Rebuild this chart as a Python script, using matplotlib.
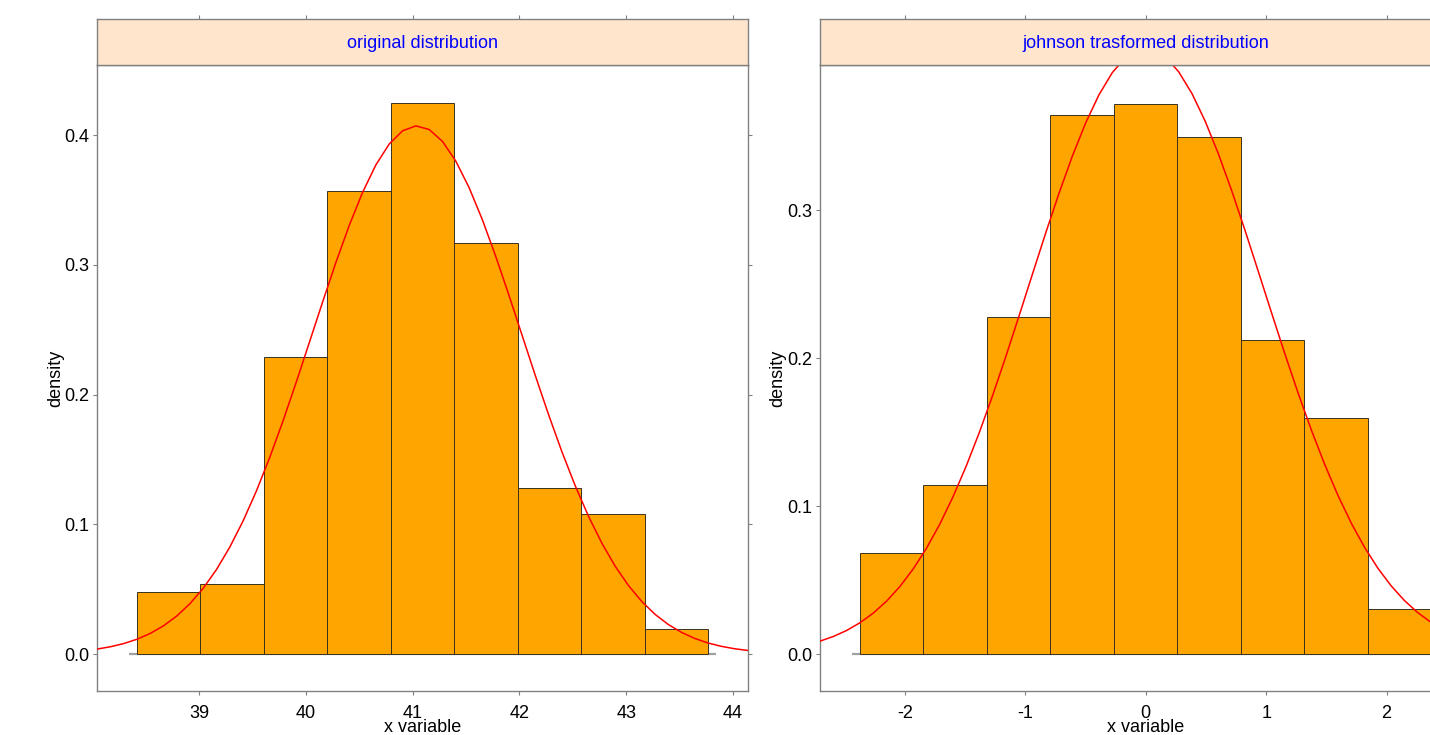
import numpy as np
import matplotlib
matplotlib.use("Agg")
import matplotlib.pyplot as plt

plt.rcParams['font.family'] = ['Liberation Sans', 'DejaVu Sans']

# ---- data ----
orig_breaks = [38.42, 39.014, 39.608, 40.202, 40.796, 41.39, 41.984, 42.578, 43.172, 43.766]
orig_density = [0.0476, 0.054, 0.229, 0.357, 0.4245, 0.3165, 0.128, 0.108, 0.0193]
orig_mean, orig_sd = 41.04, 0.98

john_breaks = [-2.374, -1.847, -1.320, -0.793, -0.266, 0.261, 0.788, 1.315, 1.842, 2.369]
john_density = [0.0684, 0.1142, 0.2277, 0.3642, 0.3716, 0.3495, 0.2122, 0.1593, 0.0304]
john_mean, john_sd = 0.0, 0.975

titles = ["original distribution", "johnson trasformed distribution"]
orig_xticks = [39, 40, 41, 42, 43, 44]
orig_yticks = [0.0, 0.1, 0.2, 0.3, 0.4]
john_xticks = [-2, -1, 0, 1, 2]
john_yticks = [0.0, 0.1, 0.2, 0.3]
xlabel = "x variable"
ylabel = "density"

W, H = 1430, 735
fig = plt.figure(figsize=(W / 100, H / 100), dpi=100)

FRAME = '#808080'
STRIP_BG = '#ffe5cc'
FS = 13


def px(x0, y0, x1, y1):
    return [x0 / W, 1 - y1 / H, (x1 - x0) / W, (y1 - y0) / H]


def panel(left_px, breaks, dens, mean, sd, xlim, ylim, xticks, yticks, title, ylab_x):
    ax = fig.add_axes(px(left_px, 65, left_px + 651, 691))
    st = fig.add_axes(px(left_px, 19, left_px + 651, 65))
    for a in (ax, st):
        a.set_xlim(*xlim)
        for s in a.spines.values():
            s.set_color(FRAME)
            s.set_linewidth(1.0)
    # histogram bars
    b = np.asarray(breaks)
    ax.bar(b[:-1], dens, width=np.diff(b), align='edge', color='#ffa500',
           edgecolor='#3a3020', linewidth=0.7, zorder=2)
    pad = 0.075 * (b[1] - b[0]) / 0.594
    ax.plot([b[0] - pad, b[-1] + pad], [0, 0], color='#a0a0a0', lw=1.6, zorder=1,
            solid_capstyle='butt')
    # fitted normal density curve (n = 50 points over panel limits)
    xs = np.linspace(xlim[0], xlim[1], 50)
    ys = np.exp(-0.5 * ((xs - mean) / sd) ** 2) / (sd * np.sqrt(2 * np.pi))
    ax.plot(xs, ys, color='red', lw=1.1, zorder=3)
    ax.set_ylim(*ylim)
    ax.set_xticks(xticks)
    ax.set_xticklabels([str(t) for t in xticks])
    ax.set_yticks(yticks)
    ax.set_yticklabels([f"{t:.1f}" for t in yticks])
    ax.tick_params(axis='both', direction='out', length=3, width=0.8, color=FRAME,
                   labelsize=FS, pad=2.5, top=False, right=True,
                   labelright=False)
    ax.tick_params(axis='x', pad=7)
    ax.set_xlabel(xlabel, fontsize=FS, labelpad=-2)
    ax.set_ylabel(ylabel, fontsize=FS)
    ax.yaxis.label.set_va('center')
    ax.yaxis.set_label_coords((ylab_x - left_px) / 651, 0.5)
    # strip
    st.set_facecolor(STRIP_BG)
    st.set_ylim(0, 1)
    st.set_yticks([])
    st.set_xticks(xticks)
    st.tick_params(axis='x', direction='out', length=3, width=0.8, color=FRAME,
                   bottom=False, top=True, labelbottom=False, labeltop=False)
    st.text(0.5, 0.5, title, transform=st.transAxes, ha='center',
            va='center_baseline', color='blue', fontsize=FS)
    return ax


panel(97, orig_breaks, orig_density, orig_mean, orig_sd,
      (38.045, 44.14), (-0.0285, 0.454), orig_xticks, orig_yticks, titles[0], 56)
panel(820, john_breaks, john_density, john_mean, john_sd,
      (-2.706, 2.701), (-0.025, 0.398), john_xticks, john_yticks, titles[1], 778)

fig.savefig("out.png", dpi=100)
